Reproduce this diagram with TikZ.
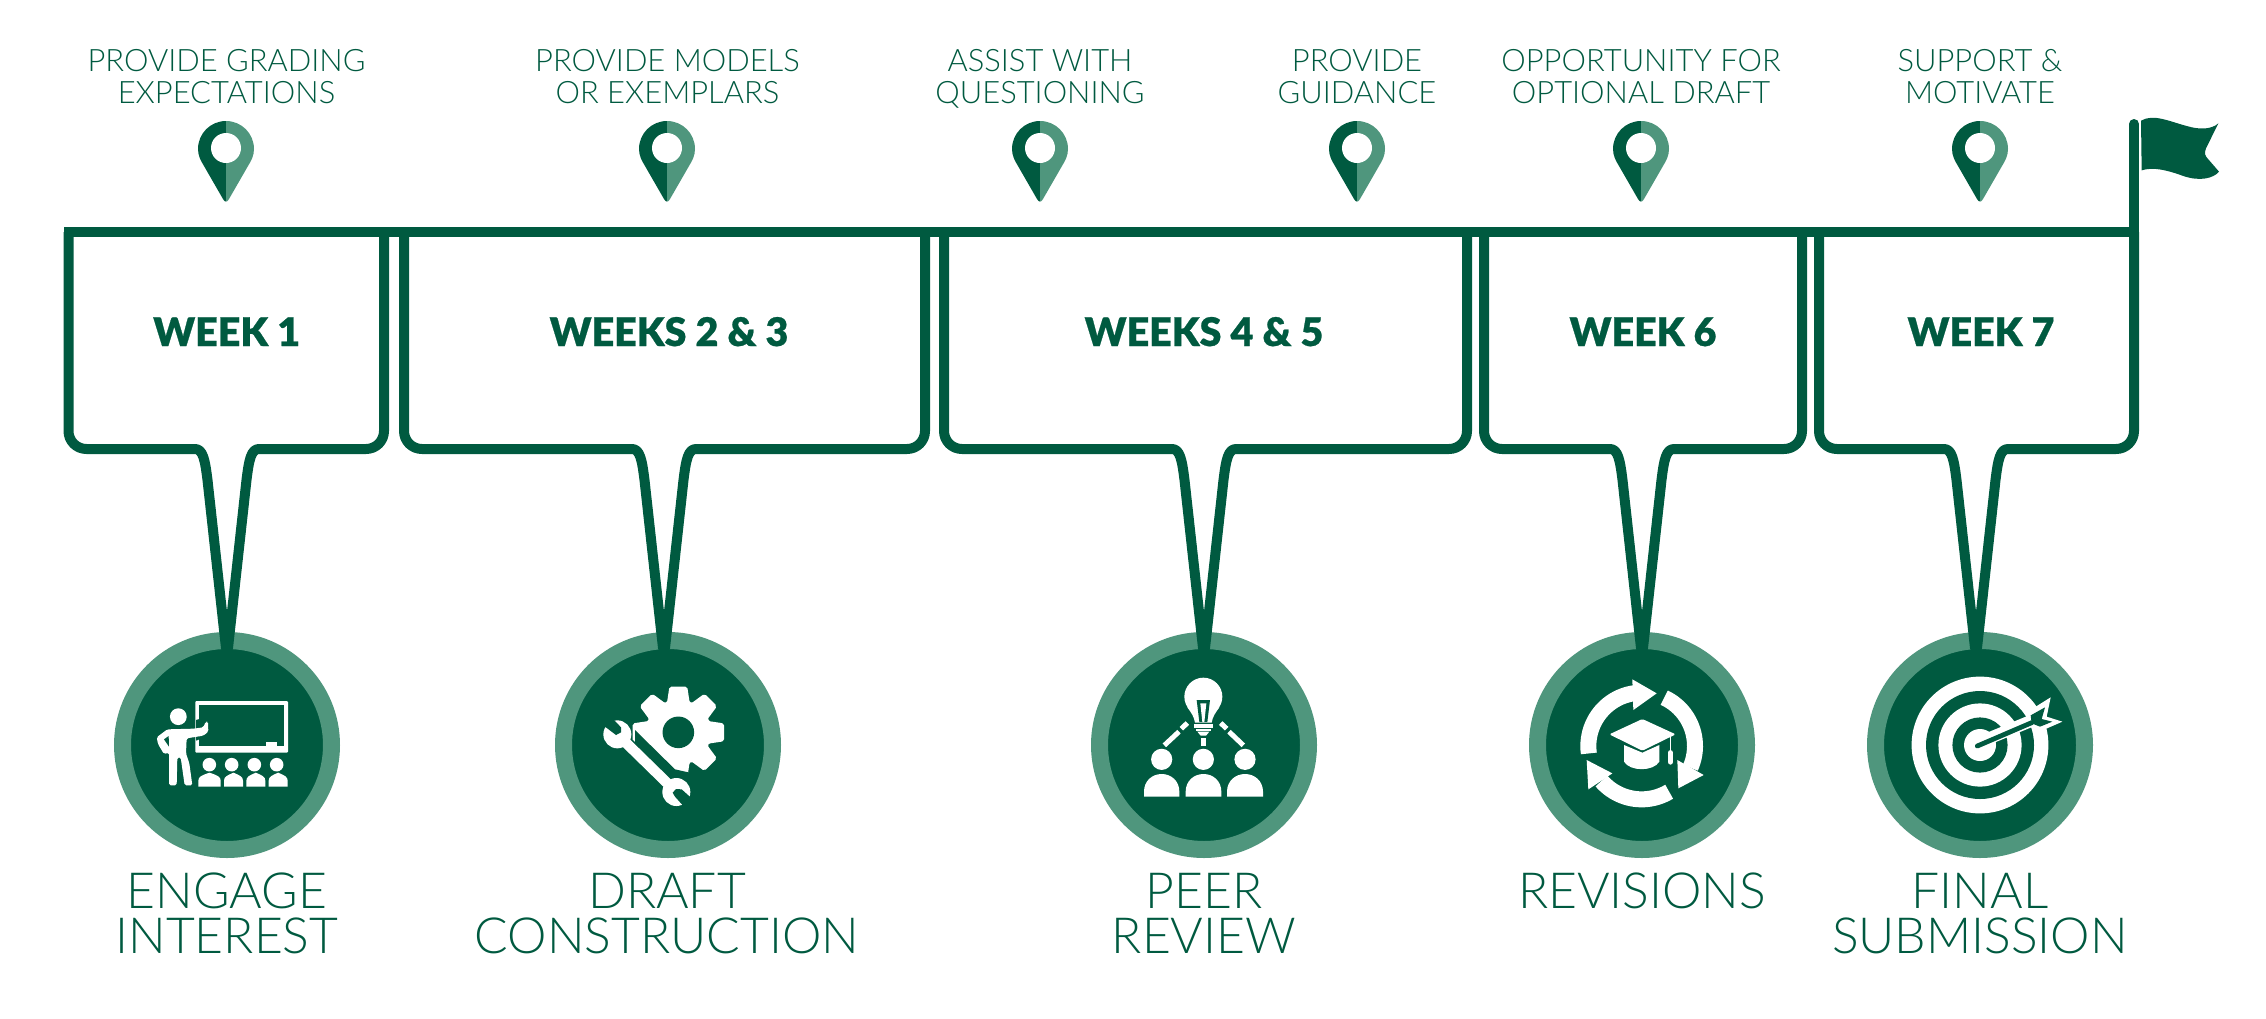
\documentclass[tikz,border=0pt]{standalone}
\usepackage{fontspec}
\setmainfont{Lato}
\newfontfamily\latolight{Lato Light}
\newfontfamily\latoblack[FakeBold=0.6]{Lato Black}
\usetikzlibrary{calc}
\definecolor{dk}{HTML}{005A40}
\definecolor{md}{HTML}{4F967D}
\tikzset{
  toplabel/.style={inner sep=0pt,anchor=base,align=center,text=dk,font=\latolight\fontsize{15.45}{16}\selectfont},
  weeklabel/.style={inner sep=0pt,anchor=base,text=dk,font=\latoblack\fontsize{19.7}{22}\selectfont},
  botlabel/.style={inner sep=0pt,anchor=base,align=center,text=dk,font=\latolight\fontsize{24.9}{22.5}\selectfont},
  ringnode/.style={circle,fill=dk,draw=md,line width=8.5pt,minimum size=104.5pt,inner sep=0pt},
  outline/.style={draw=dk,line width=5pt,line join=round},
  zoomed/.style={x=0.16667pt,y=-0.16667pt},
}
% pin: centre x
\newcommand{\pinmark}[1]{%
  \fill[dk] (#1,121) .. controls (#1-15.5,121) and (#1-28,133.5) .. (#1-28,149)
    .. controls (#1-28,156) and (#1-25,161) .. (#1-22,166) -- (#1-3,199)
    .. controls (#1-2,201) and (#1-1,201.5) .. (#1,201.5) -- cycle;
  \fill[md] (#1,121) .. controls (#1+15.5,121) and (#1+28,133.5) .. (#1+28,149)
    .. controls (#1+28,156) and (#1+25,161) .. (#1+22,166) -- (#1+3,199)
    .. controls (#1+2,201) and (#1+1,201.5) .. (#1,201.5) -- cycle;
  \fill[white] (#1,148) circle[radius=7.5pt];}
% box outline with tail: left, right, tail x, ring name
\newcommand{\calloutbox}[4]{%
  \draw[outline] (#1,232) -- (#1,431) .. controls (#1,441) and (#1+8,449) .. (#1+18,449)
    -- (#3-32,449) .. controls (#3-24,449) and (#3-22,460) .. (#3-19.5,480)
    -- ($({#3-1},0 |- #4.north)+(0,16)$) -- ($({#3+1},0 |- #4.north)+(0,16)$)
    -- (#3+19.5,480) .. controls (#3+22,460) and (#3+24,449) .. (#3+32,449)
    -- (#2-18,449) .. controls (#2-8,449) and (#2,441) .. (#2,431) -- (#2,232);}
\newcommand{\audience}[2]{%
  \fill[white] (#1,500) -- (#1,482) .. controls (#1,470) and (#1+10,466) .. ({(#1+#2)/2},458)
    .. controls (#2-10,466) and (#2,470) .. (#2,482) -- (#2,500) -- cycle;}
\newcommand{\peerbody}[2]{%
  \fill[white] (#1,530) -- (#1,515) .. controls (#1,482) and ({(#1+#2)/2-28},462) .. ({(#1+#2)/2},462)
    .. controls ({(#1+#2)/2+28},462) and (#2,482) .. (#2,515) -- (#2,530) -- cycle;}
\begin{document}
\begin{tikzpicture}[x=0.5pt,y=-0.5pt]
\useasboundingbox (0,0) rectangle (2266,1018);
\fill[white] (0,0) rectangle (2266,1018);

% top labels
\node[toplabel] (t1) at (226.5,103) {PROVIDE GRADING\\EXPECTATIONS};
\node[toplabel] (t2) at (667.5,103) {PROVIDE MODELS\\OR EXEMPLARS};
\node[toplabel] (t3) at (1040,103) {ASSIST WITH\\QUESTIONING};
\node[toplabel] (t4) at (1357,103) {PROVIDE\\GUIDANCE};
\node[toplabel] (t5) at (1641,103) {OPPORTUNITY FOR\\OPTIONAL DRAFT};
\node[toplabel] (t6) at (1980,103) {SUPPORT \&\\MOTIVATE};

% pins
\pinmark{226}\pinmark{667}\pinmark{1040}\pinmark{1357}\pinmark{1641}\pinmark{1980}

% rings
\node[ringnode] (c1) at (227,745) {};
\node[ringnode] (c2) at (668,745) {};
\node[ringnode] (c3) at (1204,745) {};
\node[ringnode] (c4) at (1642,745) {};
\node[ringnode] (c5) at (1980,745) {};

% timeline bar, pole and flag
\draw[dk,line width=5pt] (64,232) -- (2134,232);
\draw[dk,line width=5pt,line cap=round] (2134,124) -- (2134,232);
\begin{scope}[shift={(2040,90)},zoomed]
  \fill[dk] (303,92) .. controls (340,70) and (390,95) .. (440,108)
    .. controls (480,120) and (515,118) .. (535,100) -- (498,175)
    .. controls (492,190) and (495,198) .. (505,208) -- (537,245)
    .. controls (520,265) and (480,275) .. (430,258)
    .. controls (380,240) and (340,230) .. (305,241) -- cycle;
\end{scope}

% callout boxes
\calloutbox{68.5}{384}{227}{c1}
\calloutbox{404}{925}{664}{c2}
\calloutbox{944}{1467}{1204}{c3}
\calloutbox{1484}{1802}{1642}{c4}
\calloutbox{1819}{2134}{1976}{c5}

% week labels
\node[weeklabel] (w1) at (226.7,346) {WEEK 1};
\node[weeklabel] (w2) at (669,346) {WEEKS 2 \& 3};
\node[weeklabel] (w3) at (1204,346) {WEEKS 4 \& 5};
\node[weeklabel] (w4) at (1643,346) {WEEK 6};
\node[weeklabel] (w5) at (1981,346) {WEEK 7};

% bottom labels
\node[botlabel] (b1) at (227,953) {ENGAGE\\INTEREST};
\node[botlabel] (b2) at (667,953) {DRAFT\\CONSTRUCTION};
\node[botlabel] (b3) at (1204,953) {PEER\\REVIEW};
\node[botlabel] (b4) at (1642,908) {REVISIONS};
\node[botlabel] (b5) at (1980,953) {FINAL\\SUBMISSION};

% icon 1: teacher and class
\begin{scope}[shift={(90,620)},zoomed]
  \fill[white,rounded corners=0.5pt] (316,243) rectangle (594,398);
  \fill[dk] (328,255) rectangle (583,377);
  \fill[white] (527,367) rectangle (562,378);
  \fill[white] (265,290) circle[radius=4.2pt];
  \fill[dk] (318,300) -- (345,292) -- (362,310) -- (362,345) -- (318,362) -- cycle;
  \fill[white,rounded corners=0.8pt] (232,328) -- (200,352) -- (204,372) -- (222,402) -- (237,398)
    -- (237,496) -- (260,496) -- (262,412) -- (272,412) -- (284,496) -- (307,496) -- (298,430)
    -- (288,400) -- (290,355) -- (340,347) -- (355,335) -- (354,305) -- (347,305) -- (340,322)
    -- (310,326) -- cycle;
  \fill[dk] (222,358) -- (236,348) -- (237,380) -- cycle;
  \foreach \hx in {358,425,493,560} \fill[white] (\hx,434) circle[radius=3.4pt];
  \audience{325}{392}\audience{402}{459}\audience{469}{526}\audience{536}{593}
\end{scope}

% icon 2: gear and wrench
\begin{scope}[shift={(540,620)},zoomed]
  \begin{scope}[shift={(415,337)}]
    \fill[white,rounded corners=1pt] (-21:95)
      foreach \a in {0,45,...,315} { -- (\a-21:95) -- (\a-11:140) -- (\a+11:140) -- (\a+21:95) } -- cycle;
    \fill[dk] (0,0) circle[radius=7.9pt];
  \end{scope}
  \fill[dk] (285,330) -- (405,448) -- (445,457) -- (445,500) -- (285,500) -- cycle;
  \fill[white] (232,343) circle[radius=7pt];
  \fill[white] (409,516) circle[radius=7pt];
  \draw[white,line width=5.2pt] (232,343) -- (409,516);
  \fill[dk] (178,307) -- (204,281) -- (243,322) -- (243,337) -- (228,345) -- cycle;
  \fill[dk] (475,553) -- (448,578) -- (405,530) -- (398,518) -- (408,507) -- (425,508) -- cycle;
\end{scope}

% icon 3: shared idea
\begin{scope}[shift={(1080,620)},zoomed]
  \fill[white] (370,230) circle[radius=9.5pt];
  \fill[white] (322,262) .. controls (335,280) and (342,290) .. (345,308) -- (395,308)
    .. controls (398,290) and (405,280) .. (418,262) -- cycle;
  \fill[dk] (350,240) -- (390,240) -- (382,306) -- (358,306) -- cycle;
  \fill[white] (361,250) -- (379,250) -- (373,306) -- (367,306) -- cycle;
  \fill[white] (342,313) rectangle (398,323);
  \fill[white] (347,326) rectangle (393,333);
  \fill[white] (352,335) -- (388,335) -- (378,347) -- (362,347) -- cycle;
  \fill[white] (363,353) rectangle (378,378);
  \draw[white,line width=2.5pt] (322,309) -- (304,326);
  \draw[white,line width=2.5pt] (297,335) -- (253,376);
  \draw[white,line width=2.5pt] (422,309) -- (440,326);
  \draw[white,line width=2.5pt] (447,335) -- (490,376);
  \foreach \hx in {245,370,495} \fill[white] (\hx,418) circle[radius=5.3pt];
  \peerbody{192}{298}\peerbody{317}{424}\peerbody{441}{549}
\end{scope}

% icon 4: revision cycle with cap
\begin{scope}[shift={(1520,620)},zoomed]
  \draw[white,line width=8pt] plot[domain=172:262,samples=24] ({365+160*cos(\x)},{378+160*sin(\x)});
  \fill[white] (337,178) -- (410,220) -- (340,270) -- cycle;
  \draw[white,line width=8pt] plot[domain=-65:24,samples=24] ({365+160*cos(\x)},{378+160*sin(\x)});
  \fill[white] (472,420) -- (551,465) -- (475,505) -- cycle;
  \draw[white,line width=8pt] plot[domain=59:139,samples=24] ({365+160*cos(\x)},{378+160*sin(\x)});
  \fill[white] (277,460) -- (200,420) -- (205,508) -- cycle;
  \fill[white,rounded corners=0.7pt] (268,343) -- (367,297) -- (467,343) -- (367,392) -- cycle;
  \fill[white] (312,375) -- (367,398) -- (418,375) -- (418,425) .. controls (400,455) and (330,455) .. (312,425) -- cycle;
  \draw[white,line width=0.6pt] (451,348) -- (451,395);
  \draw[white,line width=2.6pt,line cap=round] (451,398) -- (451,426);
\end{scope}

% icon 5: target and arrow
\begin{scope}[shift={(1860,620)},zoomed]
  \fill[white] (360,375) circle[radius=34.2pt];
  \fill[dk] (360,375) circle[radius=27pt];
  \fill[white] (360,375) circle[radius=20.8pt];
  \fill[dk] (360,375) circle[radius=13.8pt];
  \fill[white] (360,375) circle[radius=8pt];
  \draw[white,line width=6pt] (375,360) -- (520,300);
  \fill[white] (508,272) -- (572,232) -- (560,290) -- (607,305) -- (545,332) -- (505,315) -- cycle;
  \fill[dk] (512,286) -- (555,262) -- (545,297) -- (577,305) -- (540,320) -- (515,310) -- cycle;
  \draw[dk,line width=2.4pt,line cap=round] (352,378) -- (515,308);
\end{scope}
\end{tikzpicture}
\end{document}
